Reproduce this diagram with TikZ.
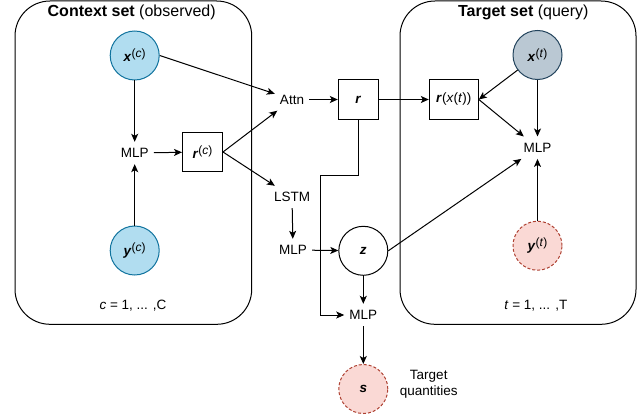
\documentclass[tikz,border=0pt]{standalone}
\usepackage{fontspec}
\setmainfont{Liberation Sans}
\usepackage{tikz}
\usetikzlibrary{arrows.meta}
\usetikzlibrary{positioning}
\usetikzlibrary{calc}
\definecolor{ctxfill}{HTML}{B1DDF0}
\definecolor{ctxdraw}{HTML}{10739E}
\definecolor{qryfill}{HTML}{BAC8D3}
\definecolor{qrydraw}{HTML}{23445D}
\definecolor{tgtfill}{HTML}{FAD9D5}
\definecolor{tgtdraw}{HTML}{AE4132}
\pgfkeys{tikz/myplate/.style={draw,rounded corners=35pt,line width=1pt}}
\pgfkeys{tikz/mycirc/.style={circle,draw,line width=1pt,minimum size=49pt,inner sep=0pt}}
\pgfkeys{tikz/mydashcirc/.style={mycirc,dash pattern=on 3pt off 2pt,fill=tgtfill,draw=tgtdraw}}
\pgfkeys{tikz/mybox/.style={rectangle,draw,line width=1pt,minimum width=40pt,minimum height=39pt,inner sep=2pt}}
\pgfkeys{tikz/mylabel/.style={inner xsep=5pt,inner ysep=0pt,minimum height=22pt}}
\pgfkeys{tikz/myarrow/.style={-{Stealth[length=8pt,width=7pt,inset=2pt]},line width=1pt}}
\newcommand\myvec[1]{\textbf{\textit{#1}}}
\newcommand\mysup[1]{\raisebox{4pt}{\fontsize{12pt}{14pt}\selectfont(\textit{#1})}}
\newcommand\mytitlefont{\fontsize{16pt}{18pt}\selectfont}

\begin{document}
\begin{tikzpicture}[x=1pt,y=-1pt,font=\fontsize{13.5pt}{16.5pt}\selectfont]
    \useasboundingbox (0,0) rectangle (644,417);
    % plates
    \draw[myplate] (15,1) rectangle (251.7,324.3);
    \draw[myplate] (400,1) rectangle (636,324.3);
    \node (ctxtitle) at (131.7,12.5) {\mytitlefont\textbf{Context set} (observed)};
    \node (tgttitle) at (523.3,12.5) {\mytitlefont\textbf{Target set} (query)};

    \node[mycirc,fill=ctxfill,draw=ctxdraw] (xc) at (134.7,55.5) {\myvec{x}\mysup{c}};
    \node[mylabel] (mlpc) at (134.7,153) {MLP};
    \node[mybox] (rc) at (202.5,152) {\myvec{r}\mysup{c}};
    \node[mycirc,fill=ctxfill,draw=ctxdraw] (yc) at (134.7,250.5) {\myvec{y}\mysup{c}};
    \node (crange) at (133,306) {\textit{c} = 1, ... ,C};

    \node[mylabel] (attn) at (292,99.5) {Attn};
    \node[mylabel] (lstm) at (292,197) {LSTM};
    \node[mylabel] (mlpz) at (293,250) {MLP};
    \node[mybox] (r) at (358.3,99.5) {\myvec{r}};
    \node[mycirc] (z) at (363.3,250.8) {\myvec{z}};
    \node[mylabel] (mlps) at (363.3,315) {MLP};
    \node[mydashcirc] (s) at (363.3,389) {\myvec{s}};
    \node[right=8pt of s,yshift=4.5pt,align=center] (sname) {Target\\quantities};

    \node[mybox,minimum width=49pt] (rxt) at (453.8,99.5) {\myvec{r}(\textit{x}(\textit{t}))};
    \node[mycirc,fill=qryfill,draw=qrydraw] (xt) at (537.5,55) {\myvec{x}\mysup{t}};
    \node[mylabel] (mlpt) at (537.5,147.7) {MLP};
    \node[mydashcirc] (yt) at (537.5,245.7) {\myvec{y}\mysup{t}};
    \node (trange) at (535.8,306) {\textit{t} = 1, ... ,T};

    \draw[myarrow] (xc.east) -- (attn);
    \draw[myarrow] (xc) -- (mlpc);
    \draw[myarrow] (yc) -- (mlpc);
    \draw[myarrow] (mlpc) -- (rc);
    \draw[myarrow] (rc.east) -- (attn);
    \draw[myarrow] (rc.east) -- (lstm);
    \draw[myarrow] (attn) -- (r);
    \draw[myarrow] (r) -- (rxt);
    \draw[myarrow] (lstm) -- (mlpz);
    \draw[myarrow] (mlpz) -- (z);
    \draw[myarrow] (z) -- (mlps);
    \draw[myarrow] (mlps) -- (s);
    \coordinate (rbend) at (320.7,175.7);
    \draw[myarrow] (r.south) |- (rbend) |- (mlps);
    \draw[myarrow] (z.east) -- (mlpt);
    \draw[myarrow] (xt) -- (rxt.east);
    \draw[myarrow] (xt) -- (mlpt);
    \draw[myarrow] (rxt.east) -- (mlpt);
    \draw[myarrow] (yt) -- (mlpt);
\end{tikzpicture}
\end{document}
